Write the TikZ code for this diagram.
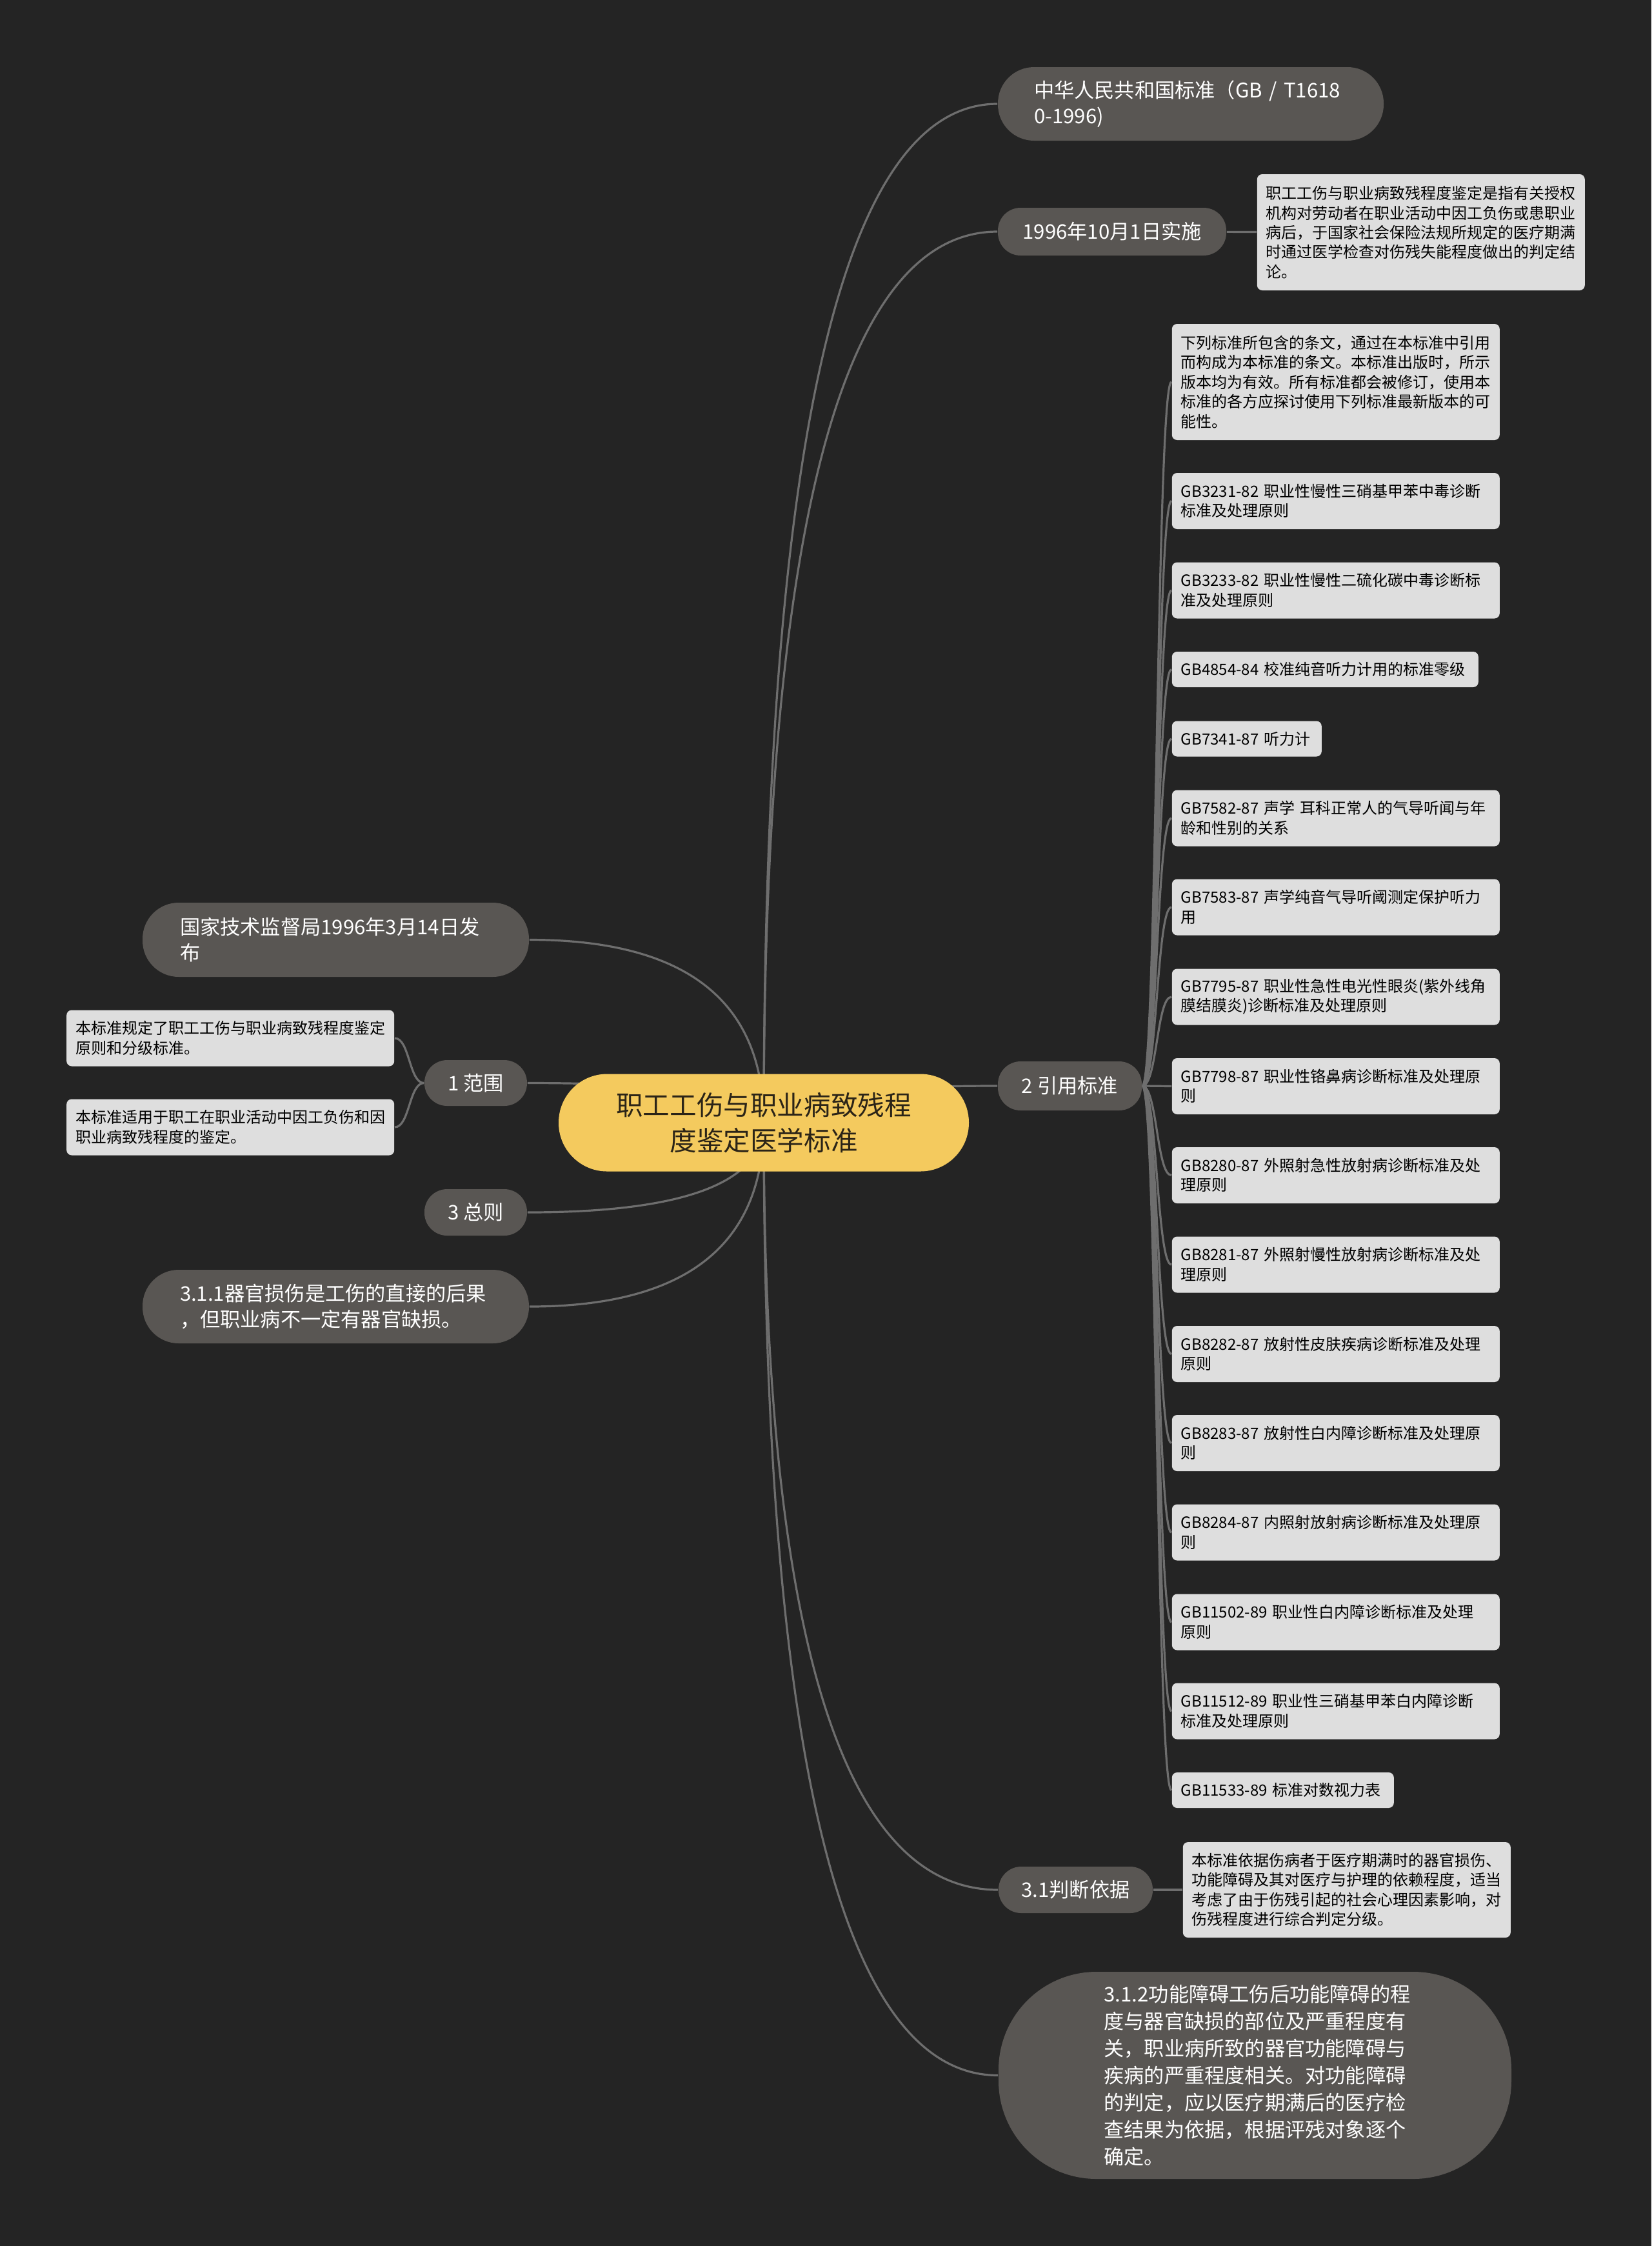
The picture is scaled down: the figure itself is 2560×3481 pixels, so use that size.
\documentclass[tikz,border=0pt]{standalone}
\usepackage{fontspec}
\setmainfont{Noto Sans CJK SC}
\usetikzlibrary{backgrounds,calc}

\definecolor{bgcol}{HTML}{242424}
\definecolor{topiccol}{HTML}{595653}
\definecolor{leafcol}{HTML}{DEDEDE}
\definecolor{rootcol}{HTML}{F4CA5E}
\definecolor{roottext}{HTML}{2B2417}
\definecolor{linkcol}{HTML}{6E6E6E}

\begin{document}
\begin{tikzpicture}[
  x=0.25pt, y=-0.25pt,
  central/.style={fill=rootcol, text=roottext, rounded corners=18.8pt, inner sep=0pt,
    minimum width=159pt, minimum height=37.75pt, align=center,
    font=\fontsize{10.4pt}{13.75pt}\selectfont},
  topic/.style={fill=topiccol, text=white, rounded corners=8.8pt, inner sep=0pt,
    font=\fontsize{7.8pt}{10pt}\selectfont},
  leaf/.style={fill=leafcol, text=black, rounded corners=2pt, inner xsep=3.5pt,
    inner ysep=0pt, text width=120pt, minimum height=21.75pt, align=left,
    font=\fontsize{6pt}{7.6pt}\selectfont},
  link/.style={draw=linkcol, line width=0.8pt}]

  \useasboundingbox (0,0) rectangle (2560,3481);

  \node[central] (root) at (1184,1740) {职工工伤与职业病致残程\\度鉴定医学标准};

  \node[topic, minimum width=149.5pt, minimum height=28.5pt, rounded corners=14pt,
    text width=121.5pt, align=left] (std) at (1846,161) {中华人民共和国标准（GB~/~T1618\\0-1996)};
  \node[topic, minimum width=88.5pt, minimum height=18.5pt] (impl) at (1724,359) {1996年10月1日实施};
  \node[leaf, minimum height=45pt, anchor=west] (def) at (1948,360)
    {职工工伤与职业病致残程度鉴定是指有关授权\\机构对劳动者在职业活动中因工负伤或患职业\\病后，于国家社会保险法规所规定的医疗期满\\时通过医学检查对伤残失能程度做出的判定结\\论。};
  \node[topic, minimum width=55.75pt, minimum height=19pt] (ref) at (1658.5,1683) {2 引用标准};

  \node[leaf, minimum height=45pt, anchor=west] (r0) at (1816,592)
    {下列标准所包含的条文，通过在本标准中引用\\而构成为本标准的条文。本标准出版时，所示\\版本均为有效。所有标准都会被修订，使用本\\标准的各方应探讨使用下列标准最新版本的可\\能性。};
  \node[leaf, anchor=west] (r1) at (1816,776.5) {GB3231-82~职业性慢性三硝基甲苯中毒诊断\\标准及处理原则};
  \node[leaf, anchor=west] (r2) at (1816,915) {GB3233-82~职业性慢性二硫化碳中毒诊断标\\准及处理原则};
  \node[leaf, anchor=west, text width=111.75pt, minimum height=13.75pt] (r3) at (1816,1037.5) {GB4854-84~校准纯音听力计用的标准零级};
  \node[leaf, anchor=west, text width=51pt, minimum height=13.75pt] (r4) at (1816,1145) {GB7341-87~听力计};
  \node[leaf, anchor=west] (r5) at (1816,1268) {GB7582-87~声学~耳科正常人的气导听闻与年\\龄和性别的关系};
  \node[leaf, anchor=west] (r6) at (1816,1406) {GB7583-87~声学纯音气导听阈测定保护听力\\用};
  \node[leaf, anchor=west] (r7) at (1816,1545) {GB7795-87~职业性急性电光性眼炎(紫外线角\\膜结膜炎)诊断标准及处理原则};
  \node[leaf, anchor=west] (r8) at (1816,1683.5) {GB7798-87~职业性铬鼻病诊断标准及处理原\\则};
  \node[leaf, anchor=west] (r9) at (1816,1821.5) {GB8280-87~外照射急性放射病诊断标准及处\\理原则};
  \node[leaf, anchor=west] (r10) at (1816,1960) {GB8281-87~外照射慢性放射病诊断标准及处\\理原则};
  \node[leaf, anchor=west] (r11) at (1816,2098.5) {GB8282-87~放射性皮肤疾病诊断标准及处理\\原则};
  \node[leaf, anchor=west] (r12) at (1816,2236.5) {GB8283-87~放射性白内障诊断标准及处理原\\则};
  \node[leaf, anchor=west] (r13) at (1816,2375) {GB8284-87~内照射放射病诊断标准及处理原\\则};
  \node[leaf, anchor=west] (r14) at (1816,2514) {GB11502-89~职业性白内障诊断标准及处理\\原则};
  \node[leaf, anchor=west] (r15) at (1816,2652) {GB11512-89~职业性三硝基甲苯白内障诊断\\标准及处理原则};
  \node[leaf, anchor=west, text width=79pt, minimum height=13.75pt] (r16) at (1816,2774.5) {GB11533-89~标准对数视力表};

  \node[topic, minimum width=59.75pt, minimum height=18pt] (basis) at (1667.5,2929) {3.1判断依据};
  \node[leaf, minimum height=37pt, anchor=west] (bc) at (1833,2929)
    {本标准依据伤病者于医疗期满时的器官损伤、\\功能障碍及其对医疗与护理的依赖程度，适当\\考虑了由于伤残引起的社会心理因素影响，对\\伤残程度进行综合判定分级。};
  \node[topic, minimum width=198.75pt, minimum height=80.25pt, rounded corners=38pt,
    text width=117pt, align=left, font=\fontsize{7.8pt}{10.5pt}\selectfont] (func) at (1945.5,3216.5)
    {3.1.2功能障碍工伤后功能障碍的程\\度与器官缺损的部位及严重程度有\\关，职业病所致的器官功能障碍与\\疾病的严重程度相关。对功能障碍\\的判定，应以医疗期满后的医疗检\\查结果为依据，根据评残对象逐个\\确定。};

  \node[topic, minimum width=149.75pt, minimum height=28.75pt, rounded corners=14pt,
    text width=120.75pt, align=left] (pub) at (520.5,1456.5) {国家技术监督局1996年3月14日发\\布};
  \node[topic, minimum width=39.75pt, minimum height=17.75pt] (range) at (737.5,1678.5) {1 范围};
  \node[leaf, anchor=east] (ra) at (612,1609) {本标准规定了职工工伤与职业病致残程度鉴定\\原则和分级标准。};
  \node[leaf, anchor=east] (rb) at (612,1747) {本标准适用于职工在职业活动中因工负伤和因\\职业病致残程度的鉴定。};
  \node[topic, minimum width=39.75pt, minimum height=18pt] (gen) at (737.5,1879) {3 总则};
  \node[topic, minimum width=149.75pt, minimum height=28.5pt, rounded corners=14pt,
    text width=120.75pt, align=left] (organ) at (520.5,2025) {3.1.1器官损伤是工伤的直接的后果\\，但职业病不一定有器官缺损。};

  \begin{scope}[on background layer]
    \fill[bgcol] (0,0) rectangle (2560,3481);
    \foreach \n in {std.west,impl.west,ref.west,basis.west,func.west,pub.east,range.east,gen.east,organ.east}
      \draw[link] (root.center) .. controls ($(root.center)!.667!(root.center |- \n)$)
        and ($(\n)!.667!(root.center |- \n)$) .. (\n);
    \draw[link] (impl) -- (def);
    \draw[link] (basis) -- (bc);
    \foreach \i in {0,...,16}
      \draw[link] (ref.east) .. controls +(23,0) and +(-23,0) .. (r\i.west);
    \draw[link] (range.west) .. controls +(-23,0) and +(23,0) .. (ra.east);
    \draw[link] (range.west) .. controls +(-23,0) and +(23,0) .. (rb.east);
  \end{scope}

\end{tikzpicture}
\end{document}
